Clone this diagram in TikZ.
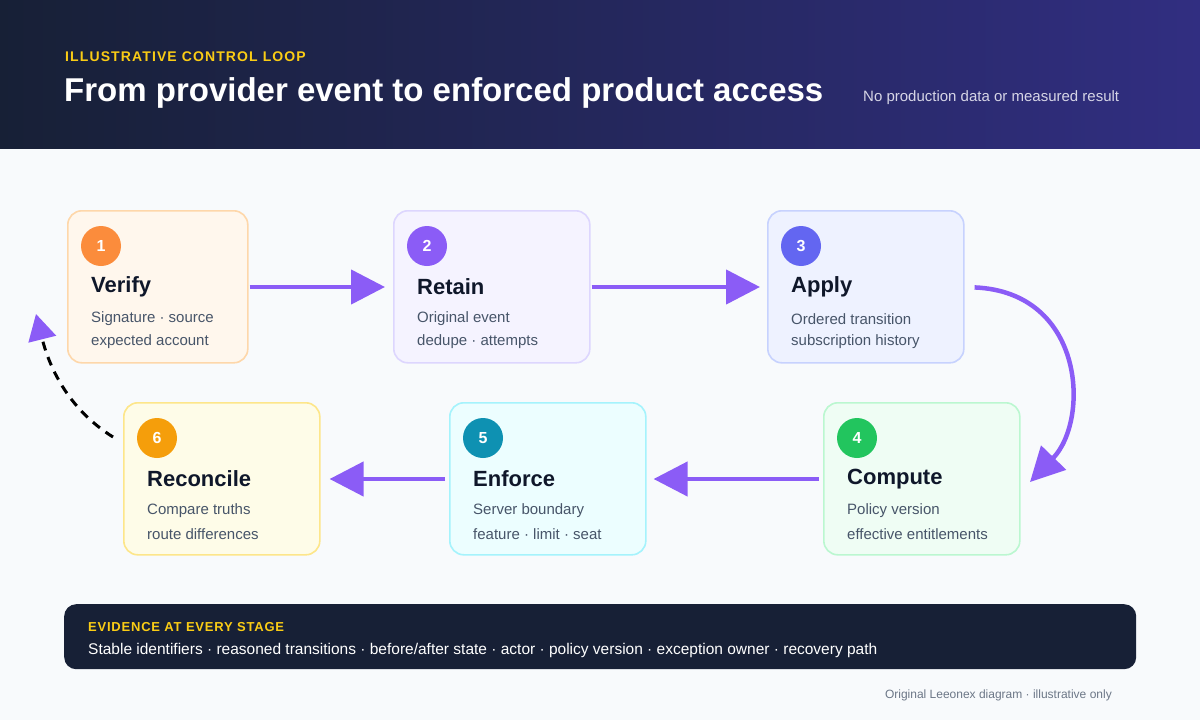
\documentclass[tikz,border=0pt]{standalone}
\usepackage{fontspec}
\setmainfont{Liberation Sans}
\usetikzlibrary{arrows.meta,positioning}
\definecolor{pagebg}{HTML}{F8FAFC}
\definecolor{headl}{HTML}{172036}
\definecolor{headr}{HTML}{312E81}
\definecolor{gold}{HTML}{FACC15}
\definecolor{ink}{HTML}{0F172A}
\definecolor{muted}{HTML}{475569}
\definecolor{flow}{HTML}{8B5CF6}
\definecolor{loop}{HTML}{F59E0B}
\definecolor{barbg}{HTML}{172036}
\definecolor{fillA}{HTML}{FFF7ED}\definecolor{lineA}{HTML}{FED7AA}\definecolor{dotA}{HTML}{FB8C3C}
\definecolor{fillB}{HTML}{F5F3FF}\definecolor{lineB}{HTML}{DDD6FE}\definecolor{dotB}{HTML}{8B5CF6}
\definecolor{fillC}{HTML}{EEF2FF}\definecolor{lineC}{HTML}{C7D2FE}\definecolor{dotC}{HTML}{6366F1}
\definecolor{fillD}{HTML}{EFFDF4}\definecolor{lineD}{HTML}{BBF7D0}\definecolor{dotD}{HTML}{22C55E}
\definecolor{fillE}{HTML}{ECFEFF}\definecolor{lineE}{HTML}{A5F3FC}\definecolor{dotE}{HTML}{0E91B2}
\definecolor{fillF}{HTML}{FEFCE8}\definecolor{lineF}{HTML}{FDE68A}\definecolor{dotF}{HTML}{F59E0B}
\tikzset{
  stage/.style={draw=line#1,fill=fill#1,line width=1.6pt,rounded corners=14pt,
    minimum width=196pt,minimum height=152pt,anchor=north west,inner sep=0pt},
  badge/.style={circle,fill=dot#1,text=white,minimum size=40pt,inner sep=0pt,
    font=\fontsize{16}{16}\selectfont\bfseries},
  stitle/.style={anchor=west,inner sep=0pt,text=ink,font=\fontsize{22}{22}\selectfont\bfseries},
  sline/.style={anchor=west,inner sep=0pt,text=muted,font=\fontsize{15}{15}\selectfont},
  flowarrow/.style={draw=flow,line width=4.5pt,-{Triangle[length=34pt,width=34pt]}},
}
% one stage card: name, x, y, width, colour key, number, title, two lines
\newcommand{\stagecard}[8]{%
  \node[stage=#5,minimum width=#4pt] (#1) at (#2,#3) {};
  \node[badge=#5] (#1n) at ([xshift=34pt,yshift=-36pt]#1.north west) {#6};
  \node[stitle] (#1t) at ([xshift=24pt,yshift=-77pt]#1.north west) {#7};
  \node[sline] (#1a) at ([xshift=24pt,yshift=-109pt]#1.north west) {#8};
}
\begin{document}
\begin{tikzpicture}[x=1pt,y=-1pt]
\useasboundingbox (0,0) rectangle (1200,720);
\fill[pagebg] (0,0) rectangle (1200,720);
\shade[left color=headl,right color=headr] (0,0) rectangle (1200,148);
\node[anchor=west,inner sep=0pt,text=gold,font=\fontsize{14}{14}\selectfont\bfseries\addfontfeature{LetterSpace=8}] (kicker) at (65,57) {ILLUSTRATIVE CONTROL LOOP};
\node[anchor=west,inner sep=0pt,text=white,font=\fontsize{33}{33}\selectfont\bfseries] (title) at (64,93) {From provider event to enforced product access};
\node[anchor=west,inner sep=0pt,text=white!80!headr,font=\fontsize{15}{15}\selectfont] (note) at (863,98) {No production data or measured result};

\stagecard{verify}{67}{210}{180}{A}{1}{Verify}{Signature · source}
\node[sline] at ([yshift=-23pt]verifya.west) {expected account};
\stagecard{retain}{393}{210}{196}{B}{2}{Retain}{Original event}
\node[sline] at ([yshift=-23pt]retaina.west) {dedupe · attempts};
\stagecard{apply}{767}{210}{196}{C}{3}{Apply}{Ordered transition}
\node[sline] at ([yshift=-23pt]applya.west) {subscription history};
\stagecard{compute}{823}{402}{196}{D}{4}{Compute}{Policy version}
\node[sline] at ([yshift=-23pt]computea.west) {effective entitlements};
\stagecard{enforce}{449}{402}{196}{E}{5}{Enforce}{Server boundary}
\node[sline] at ([yshift=-23pt]enforcea.west) {feature · limit · seat};
\stagecard{reconcile}{123}{402}{196}{F}{6}{Reconcile}{Compare truths}
\node[sline] at ([yshift=-23pt]reconcilea.west) {route differences};

\draw[flowarrow,shorten <=1pt,shorten >=8pt] (verify.east |- verifyt) -- (retain.west |- verifyt);
\draw[flowarrow,shorten <=1pt,shorten >=7pt] (retain.east |- retaint) -- (apply.west |- retaint);
\coordinate (bend) at (1030,482);
\draw[flowarrow,shorten <=10pt] (apply.east |- applyt) .. controls (1085,292) and (1090,420) .. (bend);
\draw[flowarrow,shorten <=4pt,shorten >=7pt] (compute.west |- computet) -- (enforce.east |- computet);
\draw[flowarrow,shorten <=4pt,shorten >=9pt] (enforce.west |- enforcet) -- (reconcile.east |- enforcet);
\coordinate (back) at (36,314);
\draw[loop,line width=3pt,dash pattern=on 9pt off 7pt,
  -{Triangle[length=26pt,width=28pt,color=flow,fill=flow]}]
  ([xshift=-10pt,yshift=-35pt]reconcile.north west) .. controls (70,410) and (50,370) .. (back);

\node[fill=barbg,rounded corners=12pt,minimum width=1072pt,minimum height=65pt,anchor=north west,inner sep=0pt] (evidence) at (64,604) {};
\node[anchor=west,inner sep=0pt,text=gold,font=\fontsize{13}{13}\selectfont\bfseries\addfontfeature{LetterSpace=6}] (evhead) at (88,627) {EVIDENCE AT EVERY STAGE};
\node[anchor=west,inner sep=0pt,text=white,font=\fontsize{15.5}{15.5}\selectfont] (evtext) at (88,650) {Stable identifiers · reasoned transitions · before/after state · actor · policy version · exception owner · recovery path};
\node[anchor=east,inner sep=0pt,text=muted!80,font=\fontsize{12}{12}\selectfont] (footer) at (1112,695) {Original Leeonex diagram · illustrative only};
\end{tikzpicture}
\end{document}
